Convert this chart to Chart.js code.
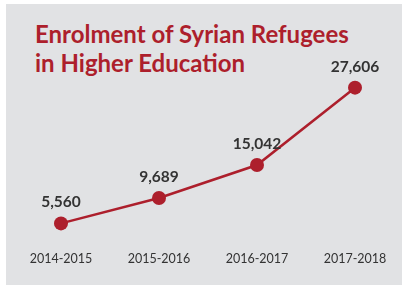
<!DOCTYPE html>
<html>
<head>
<meta charset="utf-8">
<script src="https://cdn.jsdelivr.net/npm/chart.js@4/dist/chart.umd.min.js"></script>
<style>
  html, body { margin: 0; padding: 0; background: #ffffff; }
  #wrap { position: relative; width: 404px; height: 288px; }
  #panel { position: absolute; left: 6px; top: 4px; width: 396px; height: 281px; background: #e1e2e4; }
  #title {
    position: absolute; left: 35px; top: 19px; margin: 0;
    font-family: Lato, sans-serif; font-weight: bold; font-size: 24px; line-height: 29px;
    color: #ad1f2c;
  }
  #myChart { position: absolute; left: 0; top: 0; }
</style>
</head>
<body>
<div id="wrap">
  <div id="panel"></div>
  <h1 id="title">Enrolment of Syrian Refugees<br>in Higher Education</h1>
  <canvas id="myChart" width="404" height="288"></canvas>
</div>
<script>
var years = ["2014-2015", "2015-2016", "2016-2017", "2017-2018"];
var students = [5560, 9689, 15042, 27606];

// draws the number above each point
var valueLabels = {
  id: "valueLabels",
  afterDatasetsDraw: function (chart) {
    var ctx = chart.ctx;
    var meta = chart.getDatasetMeta(0);
    ctx.save();
    ctx.font = "bold 15.5px Lato";
    ctx.fillStyle = "#333333";
    ctx.textAlign = "center";
    ctx.textBaseline = "middle";
    meta.data.forEach(function (pt, i) {
      ctx.fillText(students[i].toLocaleString("en-US"), pt.x, pt.y - 21);
    });
    ctx.restore();
  },
};

window.onload = function () {
  var ctx = document.getElementById("myChart").getContext("2d");
  new Chart(ctx, {
    type: "line",
    data: {
      labels: years,
      datasets: [
        {
          data: students,
          borderColor: "#ad1f2c",
          backgroundColor: "#ad1f2c",
          borderWidth: 2.5,
          pointRadius: 7,
          pointBackgroundColor: "#ad1f2c",
          pointBorderWidth: 0,
          tension: 0,
        },
      ],
    },
    options: {
      responsive: false,
      animation: false,
      layout: { padding: { left: 61, right: 49, top: 60, bottom: 12 } },
      plugins: { legend: { display: false }, tooltip: { enabled: false } },
      scales: {
        x: {
          offset: false,
          grid: { display: false, drawTicks: false },
          border: { display: false },
          ticks: {
            color: "#333333",
            padding: 10,
            font: { family: "Lato", size: 12.5 },
            maxRotation: 0,
          },
        },
        y: { display: false, min: 2700, max: 32100 },
      },
    },
    plugins: [valueLabels],
  });
};
</script>
</body>
</html>
